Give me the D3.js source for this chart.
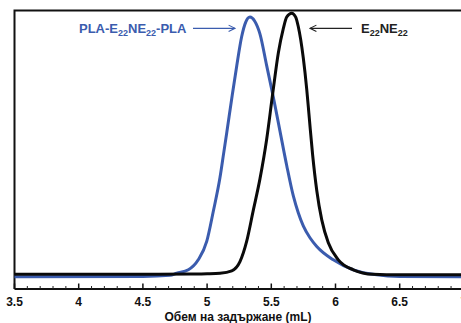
<!DOCTYPE html>
<html>
<head>
<meta charset="utf-8">
<script src="https://cdn.jsdelivr.net/npm/d3@7"></script>
<style>
  body { margin: 0; background: #fff; }
  svg { display: block; font-family: "Liberation Sans", Arial, sans-serif; }
</style>
</head>
<body>
<svg id="chart" width="461" height="323"></svg>
<script>
// elution volume (mL) and normalised detector response
const blueX = [3.5, 4.5, 4.711, 4.763, 4.854, 4.931, 4.997, 5.048, 5.1, 5.13, 5.153, 5.192, 5.231, 5.269, 5.3, 5.334, 5.37, 5.412, 5.464, 5.516, 5.568, 5.62, 5.671, 5.71, 5.749, 5.801, 5.854, 5.983, 6.139, 6.321, 6.5, 7.0];
const blueY = [-0.003, -0.002, 0.002, 0.01, 0.023, 0.061, 0.131, 0.245, 0.373, 0.47, 0.545, 0.675, 0.80, 0.91, 0.965, 0.985, 0.97, 0.92, 0.80, 0.68, 0.55, 0.42, 0.305, 0.24, 0.19, 0.145, 0.112, 0.061, 0.023, 0.004, -0.002, -0.003];

const blackX = [3.5, 4.5, 4.867, 5.0, 5.1, 5.192, 5.256, 5.308, 5.36, 5.412, 5.464, 5.51, 5.555, 5.593, 5.62, 5.659, 5.69, 5.71, 5.749, 5.776, 5.796, 5.822, 5.854, 5.893, 5.944, 6.022, 6.139, 6.292, 6.5, 7.0];
const blackY = [0.006, 0.006, 0.007, 0.008, 0.01, 0.019, 0.054, 0.131, 0.25, 0.37, 0.52, 0.69, 0.849, 0.94, 0.985, 1.0, 0.985, 0.949, 0.83, 0.71, 0.60, 0.46, 0.325, 0.213, 0.126, 0.061, 0.023, 0.006, 0.004, 0.004];

const tickValues = [3.5, 4, 4.5, 5, 5.5, 6, 6.5, 7];
const xTitle = "Обем на задържане (mL)";

const blue = "#3b5cae";

const svg = d3.select("#chart");
const plotLeft = 14.5, plotTop = 10.5, plotBottom = 289;

const x = d3.scaleLinear().domain([3.5, 7]).range([plotLeft, plotLeft + 7 * 64.2]);
const y = d3.scaleLinear().domain([-0.05, 1.01]).range([plotBottom, plotTop]);

// frame (right edge falls outside the picture)
svg.append("path")
  .attr("d", `M${plotLeft},${plotBottom}V${plotTop}H470M${plotLeft},${plotBottom}H470`)
  .attr("fill", "none")
  .attr("stroke", "#111")
  .attr("stroke-width", 2);

// ticks, pointing inward
const minor = d3.range(35, 71).map(d => d / 10).filter(d => Math.round(d * 10) % 5 !== 0);
svg.append("g")
  .selectAll("line")
  .data(minor)
  .join("line")
  .attr("x1", d => x(d)).attr("x2", d => x(d))
  .attr("y1", plotBottom).attr("y2", plotBottom - 3)
  .attr("stroke", "#222").attr("stroke-width", 1);

svg.append("g")
  .selectAll("line")
  .data(tickValues)
  .join("line")
  .attr("x1", d => x(d)).attr("x2", d => x(d))
  .attr("y1", plotBottom).attr("y2", plotBottom - 5.5)
  .attr("stroke", "#111").attr("stroke-width", 1.5);

svg.append("g")
  .selectAll("text")
  .data(tickValues)
  .join("text")
  .attr("x", d => x(d))
  .attr("y", 305.5)
  .attr("text-anchor", "middle")
  .attr("font-size", 12)
  .attr("font-weight", "bold")
  .attr("fill", "#111")
  .text(d => d);

svg.append("text")
  .attr("x", 238)
  .attr("y", 321)
  .attr("text-anchor", "middle")
  .attr("font-size", 12)
  .attr("font-weight", "bold")
  .attr("fill", "#111")
  .text(xTitle);

// curves
const line = d3.line()
  .x(d => x(d[0]))
  .y(d => y(d[1]))
  .curve(d3.curveMonotoneX);

svg.append("path")
  .datum(d3.zip(blueX, blueY))
  .attr("d", line)
  .attr("fill", "none")
  .attr("stroke", blue)
  .attr("stroke-width", 3);

svg.append("path")
  .datum(d3.zip(blackX, blackY))
  .attr("d", line)
  .attr("fill", "none")
  .attr("stroke", "#0a0a0a")
  .attr("stroke-width", 3);

// labels with subscripts
function label(xPos, parts, color) {
  const t = svg.append("text")
    .attr("x", xPos).attr("y", 32.5)
    .attr("font-size", 13)
    .attr("font-weight", "bold")
    .attr("fill", color);
  parts.forEach(p => {
    t.append("tspan")
      .attr("font-size", p.sub ? 9 : 13)
      .attr("dy", p.sub ? 3 : (p.after ? -3 : 0))
      .text(p.s);
  });
}

label(79, [
  {s: "PLA-E"}, {s: "22", sub: true}, {s: "NE", after: true},
  {s: "22", sub: true}, {s: "-PLA", after: true}
], blue);

label(361, [
  {s: "E"}, {s: "22", sub: true}, {s: "NE", after: true}, {s: "22", sub: true}
], "#222");

// arrows
const defs = svg.append("defs");
[["ab", blue], ["ak", "#222"]].forEach(([id, c]) => {
  defs.append("marker")
    .attr("id", id)
    .attr("viewBox", "0 0 10 10")
    .attr("refX", 9).attr("refY", 5)
    .attr("markerWidth", 8).attr("markerHeight", 8)
    .attr("markerUnits", "userSpaceOnUse")
    .attr("orient", "auto")
    .append("path")
    .attr("d", "M1,1L9,5L1,9")
    .attr("fill", "none")
    .attr("stroke", c)
    .attr("stroke-width", 1.3);
});

svg.append("line")
  .attr("x1", 193).attr("x2", 235).attr("y1", 28.3).attr("y2", 28.3)
  .attr("stroke", blue).attr("stroke-width", 1.3)
  .attr("marker-end", "url(#ab)");

svg.append("line")
  .attr("x1", 352).attr("x2", 310).attr("y1", 28.3).attr("y2", 28.3)
  .attr("stroke", "#222").attr("stroke-width", 1.3)
  .attr("marker-end", "url(#ak)");
</script>
</body>
</html>
